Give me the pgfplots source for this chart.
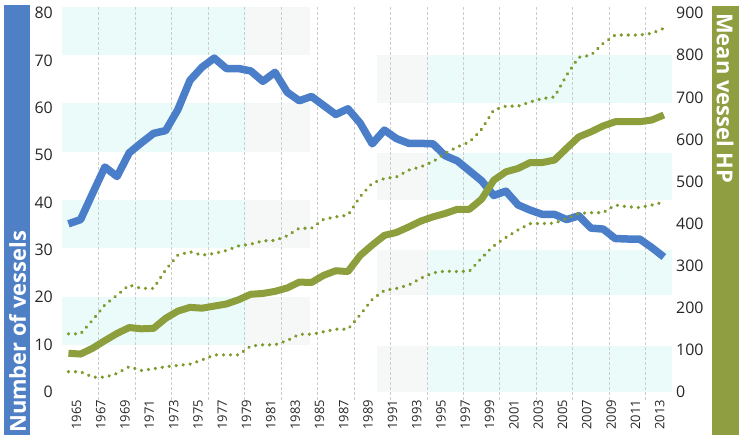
\documentclass[border=0pt]{standalone}
\usepackage{fontspec}
\setmainfont{Open Sans}
\usepackage{pgfplots}
\usepackage{pgfplotstable}
\pgfplotsset{compat=1.18}
\definecolor{lineblue}{HTML}{4A7EC8}
\definecolor{boxblue}{HTML}{4F80C6}
\definecolor{linegreen}{HTML}{8C9F3C}
\definecolor{boxgreen}{HTML}{8E9E40}
\definecolor{dotgreen}{HTML}{7E9A2C}
\definecolor{cyanband}{HTML}{EAFBFA}
\definecolor{grayband}{HTML}{F6F8F8}
\definecolor{ticktext}{HTML}{262626}

\pgfplotstableread{
year vessels
1965 35.5
1966 36.4
1967 42
1968 47.5
1969 45.5
1970 50.5
1971 52.6
1972 54.6
1973 55.2
1974 59.6
1975 65.8
1976 68.6
1977 70.5
1978 68.3
1979 68.3
1980 67.8
1981 65.6
1982 67.5
1983 63.3
1984 61.5
1985 62.4
1986 60.5
1987 58.6
1988 59.8
1989 56.8
1990 52.4
1991 55.3
1992 53.5
1993 52.5
1994 52.5
1995 52.4
1996 49.9
1997 48.8
1998 46.7
1999 44.6
2000 41.5
2001 42.4
2002 39.5
2003 38.4
2004 37.5
2005 37.5
2006 36.4
2007 37.2
2008 34.6
2009 34.4
2010 32.4
2011 32.3
2012 32.3
2013 30.5
2014 28.5
}\vesseltable

\pgfplotstableread{
year mean upper lower
1965 92 138 48
1966 90 138 48
1967 104 171 35
1968 122 207 35
1969 139 230 44
1970 153 254 60
1971 150 246 51
1972 151 246 55
1973 175 290 60
1974 192 325 63
1975 201 333 66
1976 199 325 76
1977 204 329 88
1978 209 336 88
1979 219 347 88
1980 232 351 109
1981 234 359 112
1982 239 360 112
1983 247 371 122
1984 261 389 137
1985 260 389 137
1986 277 410 143
1987 288 416 149
1988 286 420 149
1989 324 464 183
1990 349 496 220
1991 372 507 241
1992 379 511 246
1993 392 527 254
1994 406 535 270
1995 416 547 283
1996 424 567 287
1997 434 582 286
1998 434 594 287
1999 458 624 318
2000 503 670 347
2001 523 679 367
2002 531 679 385
2003 545 689 400
2004 545 697 400
2005 551 701 401
2006 579 753 412
2007 606 795 424
2008 618 800 426
2009 632 828 426
2010 642 848 444
2011 642 848 440
2012 642 848 438
2013 646 852 444
2014 658 864 451
}\hptable

\pgfplotsset{
  common/.style={
    at={(62bp,43bp)}, anchor=south west,
    scale only axis, width=610bp, height=393bp,
    xmin=1964.47, xmax=2014.67,
    axis line style={draw=none},
    major tick length=0pt, minor tick length=0pt,
    /pgf/number format/assume math mode=true,
    /pgf/number format/1000 sep={},
  },
  dotline/.style={dotgreen, line width=3.6bp, line cap=round, dash pattern=on 0.01bp off 7bp},
}

\begin{document}
\begin{tikzpicture}[x=1bp,y=1bp]
\useasboundingbox (0,0) rectangle (743,443);

% side title boxes
\fill[boxblue] (4,8) rectangle (30,438);
\node[rotate=90, anchor=west, inner sep=0pt, text=white,
      font=\bfseries\fontsize{22}{22}\selectfont] at (17.5,10) {Number of vessels};
\fill[boxgreen] (712,8) rectangle (739,437);
\node[rotate=-90, anchor=west, inner sep=0pt, text=white,
      font=\bfseries\fontsize{22}{22}\selectfont] at (725,430) {Mean vessel HP};

% background bands
\begin{axis}[common, ymin=-1.7, ymax=81.3, hide axis]
\addplot[fill=cyanband, draw=none] coordinates {(1964.47,10) (1979.7,10) (1979.7,20) (1964.47,20)} -- cycle;
\addplot[fill=cyanband, draw=none] coordinates {(1964.47,30.4) (1979.7,30.4) (1979.7,40.5) (1964.47,40.5)} -- cycle;
\addplot[fill=cyanband, draw=none] coordinates {(1964.47,50.7) (1979.7,50.7) (1979.7,61) (1964.47,61)} -- cycle;
\addplot[fill=cyanband, draw=none] coordinates {(1964.47,71.1) (1979.7,71.1) (1979.7,81.3) (1964.47,81.3)} -- cycle;
\addplot[fill=grayband, draw=none] coordinates {(1979.7,10) (1984.9,10) (1984.9,20) (1979.7,20)} -- cycle;
\addplot[fill=grayband, draw=none] coordinates {(1979.7,30.4) (1984.9,30.4) (1984.9,40.5) (1979.7,40.5)} -- cycle;
\addplot[fill=grayband, draw=none] coordinates {(1979.7,50.7) (1984.9,50.7) (1984.9,61) (1979.7,61)} -- cycle;
\addplot[fill=grayband, draw=none] coordinates {(1979.7,71.1) (1984.9,71.1) (1984.9,81.3) (1979.7,81.3)} -- cycle;
\addplot[fill=grayband, draw=none] coordinates {(1990.4,0) (1994.6,0) (1994.6,9.6) (1990.4,9.6)} -- cycle;
\addplot[fill=grayband, draw=none] coordinates {(1990.4,20.5) (1994.6,20.5) (1994.6,30) (1990.4,30)} -- cycle;
\addplot[fill=grayband, draw=none] coordinates {(1990.4,40.5) (1994.6,40.5) (1994.6,50.5) (1990.4,50.5)} -- cycle;
\addplot[fill=grayband, draw=none] coordinates {(1990.4,61) (1994.6,61) (1994.6,71.1) (1990.4,71.1)} -- cycle;
\addplot[fill=cyanband, draw=none] coordinates {(1994.6,0) (2014.67,0) (2014.67,9.6) (1994.6,9.6)} -- cycle;
\addplot[fill=cyanband, draw=none] coordinates {(1994.6,20.5) (2014.67,20.5) (2014.67,30) (1994.6,30)} -- cycle;
\addplot[fill=cyanband, draw=none] coordinates {(1994.6,40.5) (2014.67,40.5) (2014.67,50.5) (1994.6,50.5)} -- cycle;
\addplot[fill=cyanband, draw=none] coordinates {(1994.6,61) (2014.67,61) (2014.67,71.1) (1994.6,71.1)} -- cycle;
\end{axis}

% left axis: number of vessels
\begin{axis}[common, ymin=-1.7, ymax=81.3,
  ytick={0,10,...,80},
  xtick={1965,1967,...,2013},
  minor xtick={1967.5,1970.5,...,2012.5},
  xminorgrids,
  minor grid style={draw=black!20, line width=0.8bp, dash pattern=on 3bp off 2bp},
  yticklabel style={anchor=east, inner sep=0pt, xshift=-9bp, text=ticktext,
                    font=\fontsize{16}{16}\selectfont},
  xticklabel style={rotate=90, anchor=east, inner sep=0pt, yshift=-8bp, text=ticktext,
                    font=\fontsize{13}{13}\selectfont},
]
\addplot[lineblue, line width=7.5bp, line join=round] table[x=year, y=vessels] {\vesseltable};
\end{axis}

% right axis: mean vessel HP
\begin{axis}[common, ymin=-19.125, ymax=914.6,
  xtick=\empty,
  ytick={0,100,...,900},
  yticklabel pos=right,
  yticklabel style={anchor=west, inner sep=0pt, xshift=4bp, text=ticktext,
                    font=\fontsize{16}{16}\selectfont},
]
\addplot[dotline] table[x=year, y=upper] {\hptable};
\addplot[dotline] table[x=year, y=lower] {\hptable};
\addplot[linegreen, line width=7bp, line join=round] table[x=year, y=mean] {\hptable};
\end{axis}
\end{tikzpicture}
\end{document}
